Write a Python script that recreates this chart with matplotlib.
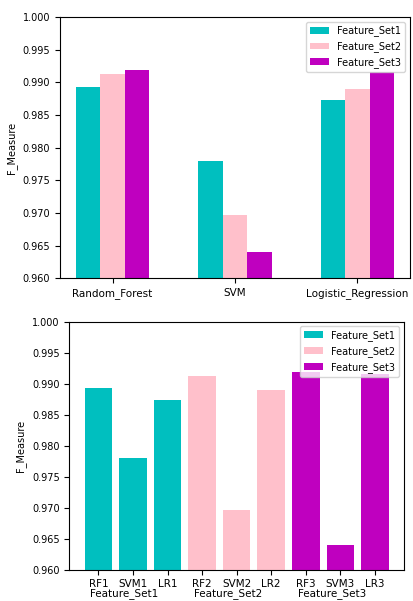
import numpy as np
import matplotlib
matplotlib.use("Agg")
import matplotlib.pyplot as plt

plt.rcParams.update({
    "font.size": 7,
    "xtick.labelsize": 7,
    "ytick.labelsize": 7,
    "legend.fontsize": 7,
    "axes.labelsize": 7,
})

# 数据
models = ["Random_Forest", "SVM", "Logistic_Regression"]
short_names = ["RF", "SVM", "LR"]
set_names = ["Feature_Set1", "Feature_Set2", "Feature_Set3"]
set1 = [0.9893, 0.9780, 0.9873]
set2 = [0.9913, 0.9697, 0.9889]
set3 = [0.9918, 0.9640, 0.9915]
colors = ["c", "pink", "m"]

fig = plt.figure(figsize=(4.13, 6.01), dpi=100)

# ============ 上图: 分组柱状图 ============
ax1 = fig.add_axes([0.145, 0.537, 0.848, 0.435])
x = np.arange(len(models))
width = 0.2
for i, (vals, name, col) in enumerate(zip([set1, set2, set3], set_names, colors)):
    ax1.bar(x + (i - 1) * width, vals, width, color=col, label=name)
ax1.set_xticks(x)
ax1.set_xticklabels(models, fontsize=7.5)
ax1.set_ylim(0.96, 1.0)
ax1.set_yticks(np.arange(0.960, 1.0001, 0.005))
ax1.set_yticklabels([f"{v:.3f}" for v in np.arange(0.960, 1.0001, 0.005)])
ax1.set_ylabel("F_Measure")
ax1.legend(loc="upper right")

# ============ 下图: 按特征集排列 ============
ax2 = fig.add_axes([0.168, 0.052, 0.810, 0.413])
all_vals = set1 + set2 + set3
labels = [f"{m}{k + 1}" for k in range(3) for m in short_names]
bar_colors = [colors[k] for k in range(3) for _ in short_names]
xs = np.arange(len(all_vals))
bars = ax2.bar(xs, all_vals, 0.8, color=bar_colors)
ax2.set_xticks(xs)
ax2.set_xticklabels(labels, fontsize=7.5)
ax2.set_ylim(0.96, 1.0)
ax2.set_yticks(np.arange(0.960, 1.0001, 0.005))
ax2.set_yticklabels([f"{v:.3f}" for v in np.arange(0.960, 1.0001, 0.005)])
ax2.set_ylabel("F_Measure")
ax2.legend([bars[0], bars[3], bars[6]], set_names, loc="upper right")
for k, name in enumerate(set_names):
    ax2.annotate(name, xy=(3 * k + 0.75, 0), xycoords=("data", "axes fraction"),
                 xytext=(0, -13.5), textcoords="offset points",
                 ha="center", va="top", fontsize=7.5)

fig.savefig("out.png", dpi=100)
